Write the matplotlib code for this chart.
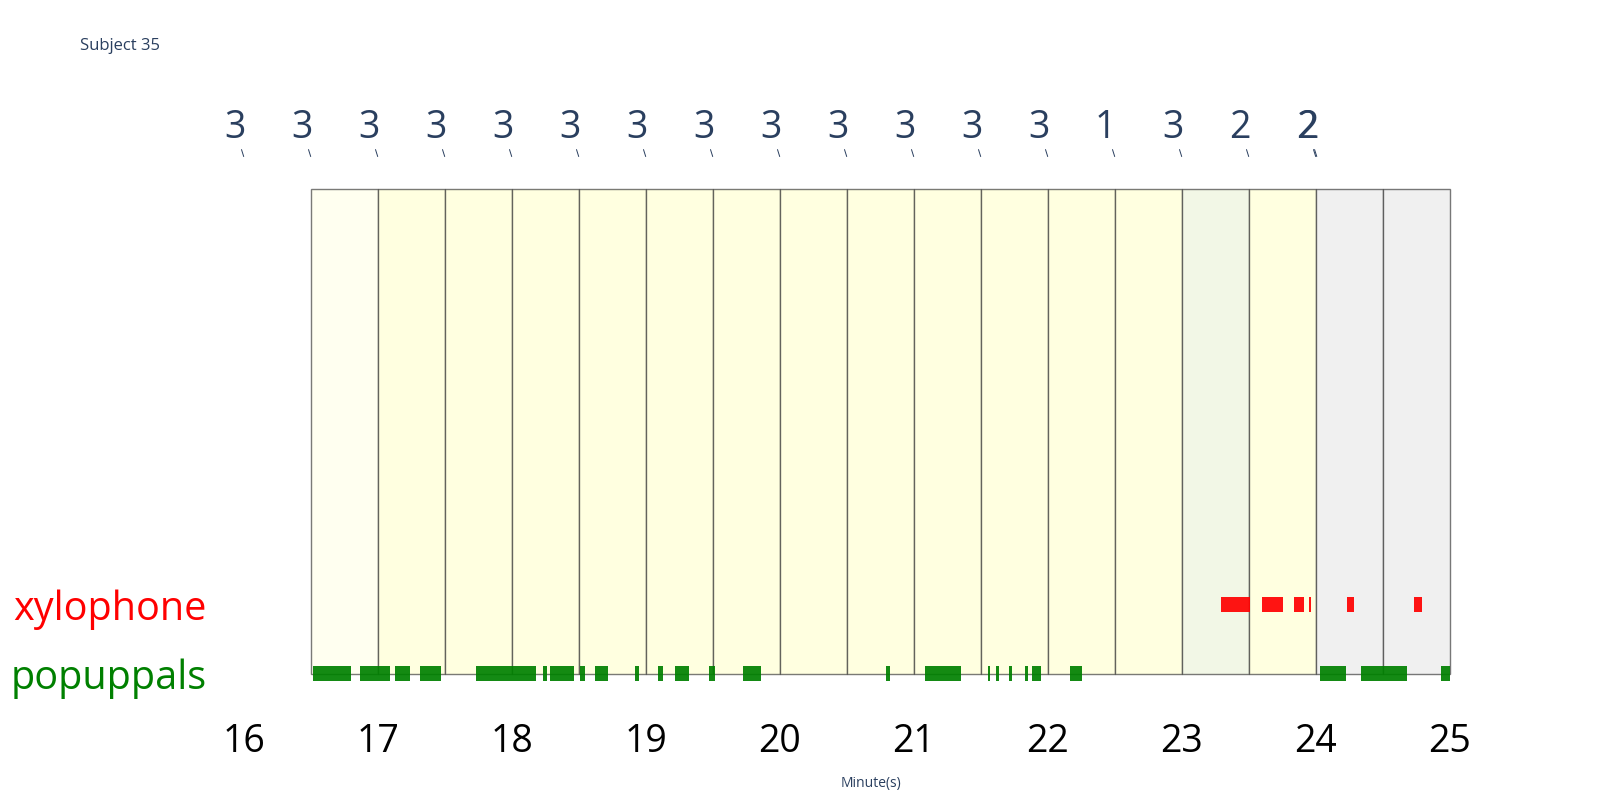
import matplotlib.pyplot as plt

plt.rcParams['font.family'] = ['Open Sans', 'DejaVu Sans']

# scored intervals (minutes), one score per half-minute block
block_starts = [16.5, 17.0, 17.5, 18.0, 18.5, 19.0, 19.5, 20.0, 20.5,
                21.0, 21.5, 22.0, 22.5, 23.0, 23.5, 24.0, 24.5]
block_colors = ['#fffff0'] + ['#ffffe0'] * 12 + ['#f2f7e6', '#ffffe0', '#f0f0f0', '#f0f0f0']

# score labels shown above the blocks
score_times = [16.0, 16.5, 17.0, 17.5, 18.0, 18.5, 19.0, 19.5, 20.0, 20.5,
               21.0, 21.5, 22.0, 22.5, 23.0, 23.5, 24.0, 24.008]
score_labels = ['3', '3', '3', '3', '3', '3', '3', '3', '3', '3',
                '3', '3', '3', '1', '3', '2', '2', '2']

# behaviour episodes (start, end) in minutes
popuppals = [(16.520, 16.801), (16.868, 17.092), (17.131, 17.243), (17.313, 17.472),
             (17.733, 18.178), (18.230, 18.260), (18.287, 18.466), (18.506, 18.546),
             (18.625, 18.717), (18.919, 18.951), (19.090, 19.127), (19.219, 19.326),
             (19.470, 19.515), (19.726, 19.863), (20.792, 20.823), (21.084, 21.351),
             (21.552, 21.571), (21.612, 21.634), (21.710, 21.735), (21.829, 21.854),
             (21.886, 21.948), (22.168, 22.253), (24.029, 24.227), (24.340, 24.683),
             (24.935, 25.005)]
xylophone = [(23.294, 23.506), (23.600, 23.754), (23.841, 23.913), (23.950, 23.962),
             (24.234, 24.286), (24.736, 24.791)]

rows = ['popuppals', 'xylophone']
row_colors = ['green', 'red']
minute_ticks = [16, 17, 18, 19, 20, 21, 22, 23, 24, 25]

fig = plt.figure(figsize=(16, 8), dpi=100)
ax = fig.add_axes([215 / 1600, 110 / 800, (1460 - 215) / 1600, 510 / 800])

# background blocks
ax.bar(block_starts, 7, width=0.5, bottom=0, align='edge', color=block_colors,
       edgecolor=(0.2, 0.2, 0.2, 0.65), linewidth=1.0, zorder=1)

# episodes
for i, (series, col) in enumerate(zip([popuppals, xylophone], row_colors)):
    ax.broken_barh([(s, e - s) for s, e in series], (i - 0.105, 0.21),
                   facecolors=col, alpha=0.92, zorder=2)

# score annotations
for t, lab in zip(score_times, score_labels):
    ax.annotate(lab, xy=(t, 7.47), xytext=(-6.5, 13.5), textcoords='offset points',
                ha='center', va='baseline', fontsize=27, color='#2a3f5f',
                annotation_clip=False,
                arrowprops=dict(arrowstyle='-', color='#2a3f5f', lw=0.7,
                                shrinkA=0, shrinkB=0))

ax.set_xlim(15.7858, 25.0769)
ax.set_ylim(-0.238, 7.131)
ax.set_xticks(minute_ticks)
ax.set_xticklabels([str(m) for m in minute_ticks], fontsize=27)
ax.set_yticks([0, 1])
ax.set_yticklabels(rows, fontsize=28.5)
for lbl, col in zip(ax.get_yticklabels(), row_colors):
    lbl.set_color(col)
ax.tick_params(axis='x', length=0, pad=24)
ax.tick_params(axis='y', length=0, pad=6)
for sp in ax.spines.values():
    sp.set_visible(False)

fig.text(80 / 1600, 1 - 46 / 800, 'Subject 35', fontsize=12, color='#2a3f5f',
         ha='left', va='center')
fig.text(871 / 1600, 1 - 783 / 800, 'Minute(s)', fontsize=10, color='#2a3f5f',
         ha='center', va='center')

fig.savefig('out.png', dpi=100)
